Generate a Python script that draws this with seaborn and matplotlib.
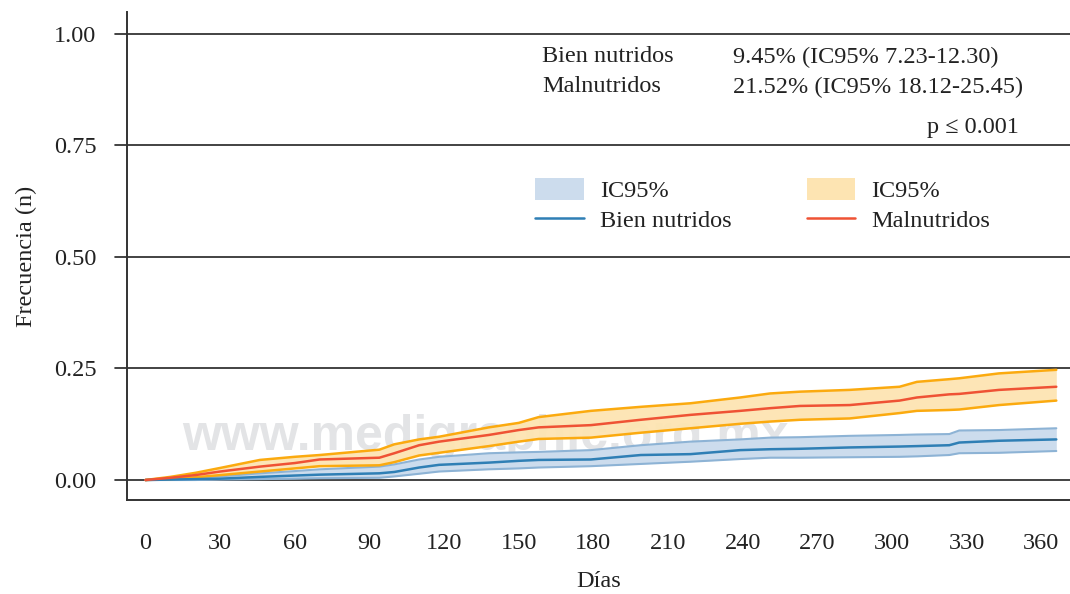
import numpy as np
import pandas as pd
import matplotlib
matplotlib.use("Agg")
import matplotlib.pyplot as plt
from matplotlib.patches import Patch
from matplotlib.lines import Line2D
import seaborn as sns

# ---- data ----
days = [0, 10, 20, 30, 46, 60, 70, 94, 100, 110, 118, 138, 150, 158, 179, 199, 219,
        239, 251, 263, 283, 303, 310, 323, 327, 343, 366]

mal_est = [0, 0.005, 0.011, 0.019, 0.030, 0.038, 0.046, 0.050, 0.060, 0.078, 0.086, 0.101,
           0.112, 0.118, 0.123, 0.135, 0.146, 0.155, 0.161, 0.166, 0.168, 0.178, 0.185,
           0.192, 0.193, 0.202, 0.209]
mal_hi = [0, 0.007, 0.016, 0.027, 0.045, 0.052, 0.056, 0.068, 0.080, 0.091, 0.097, 0.118,
          0.128, 0.141, 0.155, 0.164, 0.172, 0.185, 0.194, 0.198, 0.202, 0.209, 0.220,
          0.226, 0.228, 0.239, 0.247]
mal_lo = [0, 0.002, 0.006, 0.011, 0.019, 0.026, 0.031, 0.033, 0.040, 0.055, 0.061, 0.076,
          0.086, 0.092, 0.095, 0.106, 0.116, 0.126, 0.131, 0.135, 0.138, 0.150, 0.155,
          0.157, 0.158, 0.168, 0.178]

bien_est = [0, 0.001, 0.002, 0.003, 0.007, 0.010, 0.012, 0.015, 0.018, 0.028, 0.034, 0.039,
            0.043, 0.045, 0.046, 0.056, 0.058, 0.067, 0.069, 0.070, 0.073, 0.075, 0.076,
            0.078, 0.084, 0.088, 0.091]
bien_hi = [0, 0.002, 0.005, 0.008, 0.015, 0.020, 0.024, 0.030, 0.035, 0.046, 0.052, 0.060,
           0.062, 0.063, 0.067, 0.078, 0.086, 0.091, 0.095, 0.096, 0.099, 0.101, 0.102,
           0.103, 0.111, 0.112, 0.116]
bien_lo = [0, 0.0, 0.0, 0.001, 0.002, 0.003, 0.004, 0.005, 0.008, 0.014, 0.019, 0.024,
           0.026, 0.028, 0.031, 0.036, 0.041, 0.047, 0.050, 0.050, 0.051, 0.052, 0.053,
           0.056, 0.060, 0.061, 0.065]

x_ticks = [0, 30, 60, 90, 120, 150, 180, 210, 240, 270, 300, 330, 360]
y_ticks = [0.00, 0.25, 0.50, 0.75, 1.00]
y_tick_labels = ["0.00", "0.25", "0.50", "0.75", "1.00"]

labels_group = ["Bien nutridos", "Malnutridos"]
labels_summary = ["9.45% (IC95% 7.23-12.30)", "21.52% (IC95% 18.12-25.45)"]
p_text = "p \u2264 0.001"
watermark = "www.medigraphic.org.mx"

# ---- style ----
sns.set_theme(style="white")
plt.rcParams["font.family"] = ["Liberation Serif", "DejaVu Serif"]

W, H = 1070, 594
fig = plt.figure(figsize=(W / 100, H / 100), dpi=100)
ax = fig.add_axes([127 / W, 1 - 500 / H, 1 - 127 / W, (500 - 12) / H])

C_BLUE = "#2f7fb5"
C_BLUE_FILL = "#ccdced"
C_BLUE_EDGE = "#8db3d5"
C_RED = "#ef5234"
C_OR_FILL = "#fde4b2"
C_OR_EDGE = "#fbaa0f"
C_TXT = "#222222"

# watermark (behind the curves)
ax.text(182 / W, 1 - 450 / H, watermark, transform=fig.transFigure, fontsize=36,
        fontweight="bold", family="Liberation Sans", color="#e3e4e6",
        ha="left", va="baseline", zorder=0.5)

# grid lines
for yv in y_ticks:
    ax.axhline(yv, color=C_TXT, lw=1.2, zorder=1, clip_on=False)

# CI bands
ax.fill_between(days, bien_lo, bien_hi, color=C_BLUE_FILL, lw=0, zorder=2)
ax.fill_between(days, mal_lo, mal_hi, color=C_OR_FILL, lw=0, zorder=2, alpha=0.95)

df = pd.DataFrame({"d": days, "bl": bien_lo, "bh": bien_hi, "be": bien_est,
                   "ml": mal_lo, "mh": mal_hi, "me": mal_est})
sns.lineplot(data=df, x="d", y="bl", ax=ax, color=C_BLUE_EDGE, lw=1.5, zorder=3)
sns.lineplot(data=df, x="d", y="bh", ax=ax, color=C_BLUE_EDGE, lw=1.5, zorder=3)
sns.lineplot(data=df, x="d", y="be", ax=ax, color=C_BLUE, lw=1.8, zorder=4)
sns.lineplot(data=df, x="d", y="ml", ax=ax, color=C_OR_EDGE, lw=1.8, zorder=3)
sns.lineplot(data=df, x="d", y="mh", ax=ax, color=C_OR_EDGE, lw=1.8, zorder=3)
sns.lineplot(data=df, x="d", y="me", ax=ax, color=C_RED, lw=1.8, zorder=4)

fs = 17.5
ax.set_xlim(-7.4, 371.5)
ax.set_ylim(-0.0448, 1.049)
ax.set_xticks(x_ticks)
ax.set_yticks(y_ticks)
ax.set_yticklabels(y_tick_labels)
ax.tick_params(axis="both", labelsize=fs, colors=C_TXT, direction="out")
ax.tick_params(axis="x", length=10, width=1.3, color="#444444", pad=14)
ax.tick_params(axis="y", length=0, pad=22)
ax.set_xlabel("Días", fontsize=fs, color=C_TXT, labelpad=12)
ax.set_ylabel("Frecuencia (n)", fontsize=fs, color=C_TXT, labelpad=12)

for s in ["top", "right"]:
    ax.spines[s].set_visible(False)
for s in ["left", "bottom"]:
    ax.spines[s].set_color("#333333")
    ax.spines[s].set_linewidth(1.4)

# y tick marks continuing the grid lines left of the spine
for yv in y_ticks:
    ax.plot([-12.4, -7.4], [yv, yv], color=C_TXT, lw=1.2, clip_on=False)

# summary text
fig.text(542 / W, 1 - 57 / H, labels_group[0], fontsize=fs, va="center", ha="left", color=C_TXT)
fig.text(733 / W, 1 - 57 / H, labels_summary[0], fontsize=fs, va="center", ha="left", color=C_TXT)
fig.text(542 / W, 1 - 87 / H, labels_group[1], fontsize=fs, va="center", ha="left", color=C_TXT)
fig.text(733 / W, 1 - 87 / H, labels_summary[1], fontsize=fs, va="center", ha="left", color=C_TXT)
fig.text(1019 / W, 1 - 128 / H, p_text, fontsize=fs, va="center", ha="right", color=C_TXT)

# legend
handles = [Patch(facecolor=C_BLUE_FILL, edgecolor="none"),
           Line2D([], [], color=C_BLUE, lw=1.8),
           Patch(facecolor=C_OR_FILL, edgecolor="none"),
           Line2D([], [], color=C_RED, lw=1.8)]
leg_labels = ["IC95%", labels_group[0], "IC95%", labels_group[1]]
fig.legend(handles, leg_labels, loc="upper left",
           bbox_to_anchor=(518 / W, 1 - 161 / H), ncol=2, frameon=False,
           fontsize=fs, handlelength=2.0, handleheight=1.0,
           handletextpad=0.66, columnspacing=3.1, labelspacing=0.25,
           borderpad=0.2, labelcolor=C_TXT)

fig.savefig("out.png", dpi=100)
